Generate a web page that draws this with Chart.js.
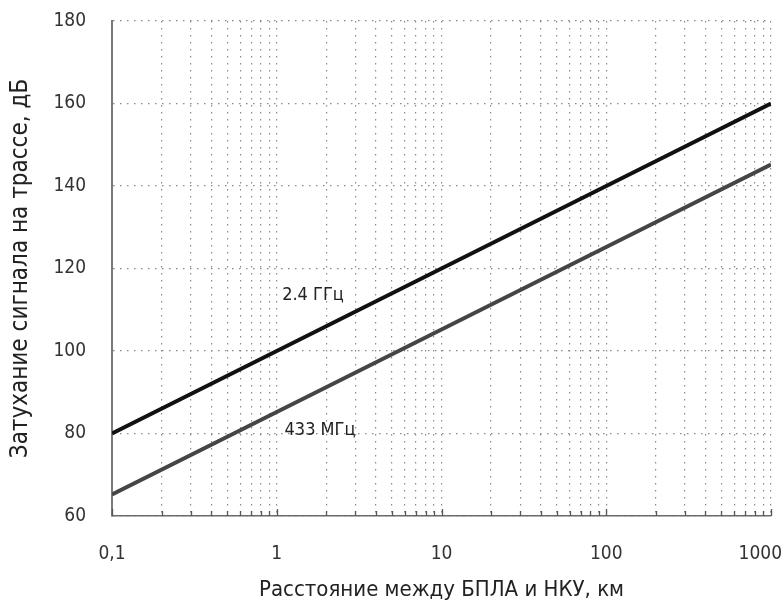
<!DOCTYPE html>
<html>
<head>
<meta charset="utf-8">
<script src="https://cdn.jsdelivr.net/npm/chart.js@4"></script>
<style>
html,body{margin:0;padding:0;background:#fff;overflow:hidden;}
#wrap{width:783px;height:605px;position:relative;}
</style>
</head>
<body>
<div id="wrap"><canvas id="c"></canvas></div>
<script>
// ---- data ----
const distancesKm = [0.1, 1, 10, 100, 1000];
const loss24GHz   = [80, 100, 120, 140, 160];
const loss433MHz  = [65.2, 85.2, 105.2, 125.2, 145.2];
const seriesNames = ['2.4 ГГц', '433 МГц'];
const xMajorTicks = [0.1, 1, 10, 100, 1000];
const xTickLabels = ['0,1', '1', '10', '100', '1000'];
const yTicks      = [60, 80, 100, 120, 140, 160, 180];
const xTitle = 'Расстояние между БПЛА и НКУ, км';
const yTitle = 'Затухание сигнала на трассе, дБ';

const FONT = "'DejaVu Sans Condensed', 'Liberation Sans Narrow', 'Roboto', sans-serif";

const toPoints = (xs, ys) => xs.map((x, i) => ({x: x, y: ys[i]}));

// all minor tick values (1..9 x 10^k) between the major ticks
const allXTicks = [];
for (let i = 0; i < xMajorTicks.length - 1; i++) {
  for (let m = 1; m <= 9; m++) allXTicks.push(+(xMajorTicks[i] * m).toPrecision(6));
}
allXTicks.push(xMajorTicks[xMajorTicks.length - 1]);

const innerTicks = {
  id: 'innerTicks',
  afterDraw(chart) {
    const xs = chart.scales.x, ctx = chart.ctx, b = chart.chartArea.bottom;
    ctx.save();
    ctx.strokeStyle = '#555';
    ctx.lineWidth = 1.3;
    allXTicks.forEach(v => {
      const px = Math.round(xs.getPixelForValue(v)) + 0.5;
      const major = xMajorTicks.includes(v);
      ctx.beginPath();
      ctx.moveTo(px, b);
      ctx.lineTo(px, b - (major ? 7 : 5));
      ctx.stroke();
    });
    ctx.restore();
  }
};

// keep the last x label inside the canvas (shift it left just enough)
const keepLastLabel = {
  id: 'keepLastLabel',
  beforeDraw(chart) {
    const xs = chart.scales.x;
    const items = xs.getLabelItems(chart.chartArea);
    const ctx = chart.ctx;
    for (let i = items.length - 1; i >= 0; i--) {
      const it = items[i];
      if (!it.label) continue;
      ctx.save();
      ctx.font = it.font.string;
      const w = ctx.measureText(it.label).width;
      ctx.restore();
      const over = it.options.translation[0] + w / 2 - (chart.width - 1);
      if (over > 0) it.options.translation[0] -= over;
      break;
    }
  }
};

const lineLabels = {
  id: 'lineLabels',
  afterDatasetsDraw(chart, args, opts) {
    const ctx = chart.ctx, xs = chart.scales.x, ys = chart.scales.y;
    ctx.save();
    ctx.font = opts.font;
    ctx.fillStyle = opts.color;
    ctx.textAlign = 'center';
    ctx.textBaseline = 'middle';
    opts.items.forEach(it => {
      ctx.fillText(it.text, xs.getPixelForValue(it.x), ys.getPixelForValue(it.y));
    });
    ctx.restore();
  }
};

new Chart(document.getElementById('c'), {
  type: 'line',
  data: {
    datasets: [
      { label: seriesNames[0], data: toPoints(distancesKm, loss24GHz),
        borderColor: '#111111', borderWidth: 4, pointRadius: 0, tension: 0, fill: false },
      { label: seriesNames[1], data: toPoints(distancesKm, loss433MHz),
        borderColor: '#454545', borderWidth: 4, pointRadius: 0, tension: 0, fill: false }
    ]
  },
  options: {
    responsive: true,
    maintainAspectRatio: false,
    animation: false,
    layout: { padding: { left: 4, right: 0, top: 21, bottom: 0 } },
    plugins: {
      legend: { display: false },
      tooltip: { enabled: false },
      lineLabels: {
        font: "18px " + FONT,
        color: '#222',
        items: [
          { text: seriesNames[0], x: 1.66, y: 113.6 },
          { text: seriesNames[1], x: 1.83, y: 80.8 }
        ]
      }
    },
    scales: {
      x: {
        type: 'logarithmic',
        min: xMajorTicks[0],
        max: xMajorTicks[xMajorTicks.length - 1],
        afterBuildTicks: (scale) => { scale.ticks = allXTicks.map(v => ({ value: v })); },
        afterFit: (scale) => { scale.height = 89; scale.paddingRight = 12; scale.paddingLeft = 0; },
        ticks: {
          autoSkip: false, maxRotation: 0, minRotation: 0, padding: 27,
          color: '#333', font: { family: FONT, size: 19 },
          callback: (value) => {
            const i = xMajorTicks.findIndex(m => Math.abs(m - value) < 1e-9);
            return i >= 0 ? xTickLabels[i] : '';
          }
        },
        grid: { color: '#8a8a8a', lineWidth: 1.2, drawTicks: false },
        border: { display: true, color: '#6a6a6a', width: 1.6, dash: [1.5, 5.5] },
        title: { display: true, text: xTitle, color: '#222', font: { family: FONT, size: 22 }, padding: { top: 4, bottom: 2 } }
      },
      y: {
        min: yTicks[0], max: yTicks[yTicks.length - 1],
        afterBuildTicks: (scale) => { scale.ticks = yTicks.map(v => ({ value: v })); },
        afterFit: (scale) => { scale.width = 108; scale.paddingTop = 0; scale.paddingBottom = 0; },
        ticks: { padding: 26, color: '#333', font: { family: FONT, size: 19 } },
        grid: { color: '#8a8a8a', lineWidth: 1.2, drawTicks: false },
        border: { display: true, color: '#7a7a7a', width: 2, dash: [1.5, 5.5] },
        title: { display: true, text: yTitle, color: '#222', font: { family: FONT, size: 24 }, padding: { top: 2, bottom: 4 } }
      }
    }
  },
  plugins: [keepLastLabel, innerTicks, lineLabels]
});
</script>
</body>
</html>
